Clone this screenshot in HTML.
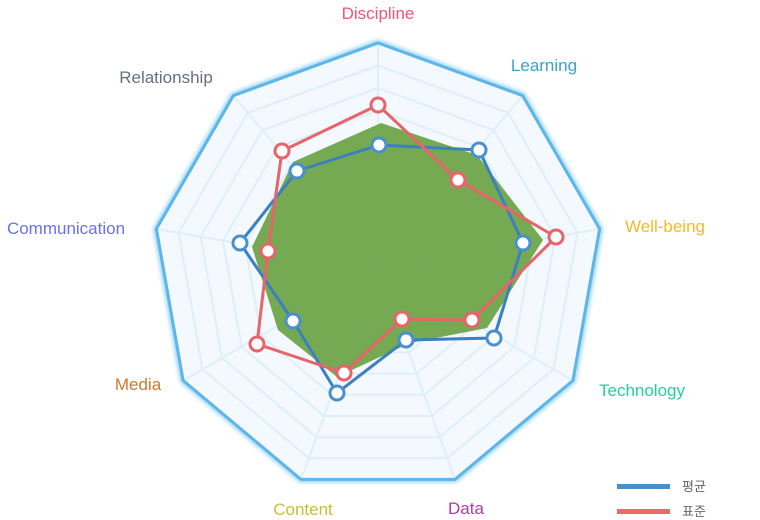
<!DOCTYPE html>
<html><head><meta charset="utf-8"><style>
html,body{margin:0;padding:0;background:#fff;}
svg{display:block;font-family:"Liberation Sans","Noto Sans CJK KR",sans-serif;}
</style></head><body>
<svg width="760" height="520" viewBox="0 0 760 520" xmlns="http://www.w3.org/2000/svg">
<defs>
<filter id="sh" x="-10%" y="-10%" width="120%" height="120%"><feGaussianBlur stdDeviation="2"/></filter>
<polygon id="ng" points="0,-225 144.6,-172.4 221.6,-39.1 194.9,112.5 77,211.4 -77,211.4 -194.9,112.5 -221.6,-39.1 -144.6,-172.4"/>
</defs>
<g transform="translate(378,268)">
<use href="#ng" fill="none" stroke="#8fd0f5" stroke-width="6" filter="url(#sh)"/>
<use href="#ng" fill="#f3f9fe"/>
<g fill="none" stroke="#dfeffa" stroke-width="2">
<use href="#ng" transform="scale(0.9)" vector-effect="non-scaling-stroke" style="vector-effect:non-scaling-stroke"/>
<polygon transform="scale(0.9)" vector-effect="non-scaling-stroke" points="0,-225 144.6,-172.4 221.6,-39.1 194.9,112.5 77,211.4 -77,211.4 -194.9,112.5 -221.6,-39.1 -144.6,-172.4"/>
<polygon transform="scale(0.8)" vector-effect="non-scaling-stroke" points="0,-225 144.6,-172.4 221.6,-39.1 194.9,112.5 77,211.4 -77,211.4 -194.9,112.5 -221.6,-39.1 -144.6,-172.4"/>
<polygon transform="scale(0.7)" vector-effect="non-scaling-stroke" points="0,-225 144.6,-172.4 221.6,-39.1 194.9,112.5 77,211.4 -77,211.4 -194.9,112.5 -221.6,-39.1 -144.6,-172.4"/>
<polygon transform="scale(0.6)" vector-effect="non-scaling-stroke" points="0,-225 144.6,-172.4 221.6,-39.1 194.9,112.5 77,211.4 -77,211.4 -194.9,112.5 -221.6,-39.1 -144.6,-172.4"/>
<polygon transform="scale(0.5)" vector-effect="non-scaling-stroke" points="0,-225 144.6,-172.4 221.6,-39.1 194.9,112.5 77,211.4 -77,211.4 -194.9,112.5 -221.6,-39.1 -144.6,-172.4"/>
<polygon transform="scale(0.4)" vector-effect="non-scaling-stroke" points="0,-225 144.6,-172.4 221.6,-39.1 194.9,112.5 77,211.4 -77,211.4 -194.9,112.5 -221.6,-39.1 -144.6,-172.4"/>
<polygon transform="scale(0.3)" vector-effect="non-scaling-stroke" points="0,-225 144.6,-172.4 221.6,-39.1 194.9,112.5 77,211.4 -77,211.4 -194.9,112.5 -221.6,-39.1 -144.6,-172.4"/>
<polygon transform="scale(0.2)" vector-effect="non-scaling-stroke" points="0,-225 144.6,-172.4 221.6,-39.1 194.9,112.5 77,211.4 -77,211.4 -194.9,112.5 -221.6,-39.1 -144.6,-172.4"/>
<polygon transform="scale(0.1)" vector-effect="non-scaling-stroke" points="0,-225 144.6,-172.4 221.6,-39.1 194.9,112.5 77,211.4 -77,211.4 -194.9,112.5 -221.6,-39.1 -144.6,-172.4"/>
<line x1="0" y1="0" x2="0" y2="-225"/><line x1="0" y1="0" x2="144.6" y2="-172.4"/><line x1="0" y1="0" x2="221.6" y2="-39.1"/><line x1="0" y1="0" x2="194.9" y2="112.5"/><line x1="0" y1="0" x2="77" y2="211.4"/><line x1="0" y1="0" x2="-77" y2="211.4"/><line x1="0" y1="0" x2="-194.9" y2="112.5"/><line x1="0" y1="0" x2="-221.6" y2="-39.1"/><line x1="0" y1="0" x2="-144.6" y2="-172.4"/>
</g>
<use href="#ng" fill="none" stroke="#5cb6ea" stroke-width="3"/>
</g>
<polygon points="381,123 477,155 543,240 487,328 410,343 337,377 278,330 252,247 293,162" fill="#6ea54a" opacity="0.95"/>
<polyline points="379,145 479,150 523,243 494,338 406,340 337,393 293,321 240,243 297,171 379,145" fill="none" stroke="#3d80c0" stroke-width="3"/>
<polyline points="378,105 458,180 556,237 472,320 402,319 344,373 257,344 268,251 282,151 378,105" fill="none" stroke="#e8636a" stroke-width="3"/>
<g fill="#fff" stroke="#4a90d0" stroke-width="3">
<circle cx="379" cy="145" r="7"/><circle cx="479" cy="150" r="7"/><circle cx="523" cy="243" r="7"/><circle cx="494" cy="338" r="7"/><circle cx="406" cy="340" r="7"/><circle cx="337" cy="393" r="7"/><circle cx="293" cy="321" r="7"/><circle cx="240" cy="243" r="7"/><circle cx="297" cy="171" r="7"/>
</g>
<g fill="#fff" stroke="#e8636a" stroke-width="3">
<circle cx="378" cy="105" r="7"/><circle cx="458" cy="180" r="7"/><circle cx="556" cy="237" r="7"/><circle cx="472" cy="320" r="7"/><circle cx="402" cy="319" r="7"/><circle cx="344" cy="373" r="7"/><circle cx="257" cy="344" r="7"/><circle cx="268" cy="251" r="7"/><circle cx="282" cy="151" r="7"/>
</g>
<g font-size="17" text-anchor="middle">
<text x="378" y="19" fill="#ee5577">Discipline</text>
<text x="544" y="71" fill="#3aa3cc">Learning</text>
<text x="665" y="232" fill="#f5b82a">Well-being</text>
<text x="642" y="396" fill="#22d09c">Technology</text>
<text x="466" y="514" fill="#b03ab0">Data</text>
<text x="303" y="515" fill="#c8c030">Content</text>
<text x="138" y="390" fill="#c87a30">Media</text>
<text x="66" y="234" fill="#6a70f0">Communication</text>
<text x="166" y="83" fill="#667080">Relationship</text>
</g>
<rect x="617" y="484" width="53" height="5" fill="#4a90c8"/>
<rect x="617" y="509" width="53" height="5" fill="#e86a6a"/>
<text x="682" y="491" font-size="13" fill="#666">평균</text>
<text x="682" y="516" font-size="13" fill="#666">표준</text>
</svg>
</body></html>
